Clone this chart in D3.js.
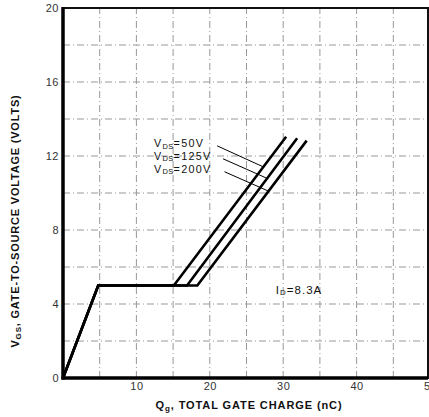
<!DOCTYPE html>
<html><head><meta charset="utf-8">
<script src="https://cdn.jsdelivr.net/npm/d3@7"></script>
<style>body{margin:0;background:#fff;} svg{display:block;font-family:"Liberation Sans",Arial,sans-serif;}</style>
</head><body>
<svg id="c" width="429" height="417"></svg>
<script>
// Data (Qg in nC, VGS in V)
const xTicks = [10, 20, 30, 40, 50];
const yTicks = [0, 4, 8, 12, 16, 20];
const series = ["50V", "125V", "200V"];
const curve50 = [[0,0],[4.8,5],[15.1,5],[30.4,13.04]];
const curve125 = [[0,0],[4.8,5],[16.9,5],[31.9,12.96]];
const curve200 = [[0,0],[4.8,5],[18.3,5],[33.2,12.83]];
const labelPos = [[12.4,12.68],[12.4,11.99],[12.4,11.3]];
const leaderLines = [[[21.0,12.55],[27.3,11.41]],[[21.8,11.85],[27.7,10.81]],[[22.0,11.15],[28.0,10.1]]];
const idLabel = {x:29.0, y:4.76, text:"8.3A"};

const svg = d3.select("#c");
const x = d3.scaleLinear().domain([0,50]).range([63,430]);
const y = d3.scaleLinear().domain([0,20]).range([378,8]);
const xRight = 428;

// grid
const gx = d3.range(5,50,5), gy = d3.range(2,20,2);
svg.append("g").selectAll("line").data(gx).join("line")
  .attr("x1",d=>x(d)).attr("x2",d=>x(d)).attr("y1",y(0)).attr("y2",y(20))
  .attr("stroke","#999").attr("stroke-width",1).attr("stroke-dasharray","7,3,1,3");
svg.append("g").selectAll("line").data(gy).join("line")
  .attr("y1",d=>y(d)).attr("y2",d=>y(d)).attr("x1",x(0)).attr("x2",xRight)
  .attr("stroke","#999").attr("stroke-width",1).attr("stroke-dasharray","7,3,1,3");

// frame
svg.append("rect").attr("x",x(0)).attr("y",y(20)).attr("width",xRight-x(0)).attr("height",y(0)-y(20))
  .attr("fill","none").attr("stroke","#111").attr("stroke-width",2);
svg.append("line").attr("x1",x(0)).attr("x2",x(0)).attr("y1",y(20)-1).attr("y2",y(0)+1.5).attr("stroke","#000").attr("stroke-width",3.5);
svg.append("line").attr("x1",x(0)-1.5).attr("x2",xRight).attr("y1",y(0)).attr("y2",y(0)).attr("stroke","#000").attr("stroke-width",3.5);

// axes
const yAxis = d3.axisLeft(y).tickValues(yTicks).tickSize(0).tickPadding(4);
const yg = svg.append("g").attr("transform",`translate(${x(0)},0)`).call(yAxis);
const xAxis = d3.axisBottom(x).tickValues(xTicks).tickSize(0).tickPadding(4);
const xg = svg.append("g").attr("transform",`translate(0,${y(0)})`).call(xAxis);
[yg,xg].forEach(g=>{g.select(".domain").remove(); g.selectAll("text").attr("font-size",11).attr("fill","#333").attr("letter-spacing","0.5").attr("font-family","'Liberation Sans',Arial,sans-serif");});

// curves
const line = d3.line().x(d=>x(d[0])).y(d=>y(d[1]));
[curve50,curve125,curve200].forEach(c=>{
  svg.append("path").attr("d",line(c)).attr("fill","none").attr("stroke","#000").attr("stroke-width",2.6).attr("stroke-linejoin","miter");
});

// labels
series.forEach((s,i)=>{
  const t = svg.append("text").attr("x",x(labelPos[i][0])).attr("y",y(labelPos[i][1])).attr("dy","0.35em")
    .attr("font-size",10.8).attr("letter-spacing","1.3").attr("fill","#111");
  t.append("tspan").text("V");
  t.append("tspan").text("DS").attr("font-size",7.5).attr("dy","1.5").attr("letter-spacing","0.3");
  t.append("tspan").text("=" + s).attr("dy","-1.5");
  svg.append("line").attr("x1",x(leaderLines[i][0][0])).attr("y1",y(leaderLines[i][0][1]))
    .attr("x2",x(leaderLines[i][1][0])).attr("y2",y(leaderLines[i][1][1])).attr("stroke","#000").attr("stroke-width",1);
});
const it = svg.append("text").attr("x",x(idLabel.x)).attr("y",y(idLabel.y)).attr("dy","0.35em").attr("font-size",11.5).attr("letter-spacing","1").attr("fill","#111");
it.append("tspan").text("I");
it.append("tspan").text("D").attr("font-size",8).attr("dy","1.5");
it.append("tspan").text("=" + idLabel.text).attr("dy","-1.5");

// axis titles
const xt = svg.append("text").attr("x",249).attr("y",409).attr("text-anchor","middle").attr("font-size",11).attr("letter-spacing","0.9").attr("font-weight","bold").attr("fill","#111");
xt.append("tspan").text("Q");
xt.append("tspan").text("g").attr("font-size",8).attr("dy","2");
xt.append("tspan").text(", TOTAL GATE CHARGE (nC)").attr("dy","-2");

const yt = svg.append("text").attr("transform","translate(19,221) rotate(-90)").attr("text-anchor","middle").attr("font-size",11).attr("letter-spacing","0.8").attr("font-weight","bold").attr("fill","#111");
yt.append("tspan").text("V");
yt.append("tspan").text("GS").attr("font-size",8).attr("dy","2");
yt.append("tspan").text(", GATE-TO-SOURCE VOLTAGE (VOLTS)").attr("dy","-2");
</script>
</body></html>
